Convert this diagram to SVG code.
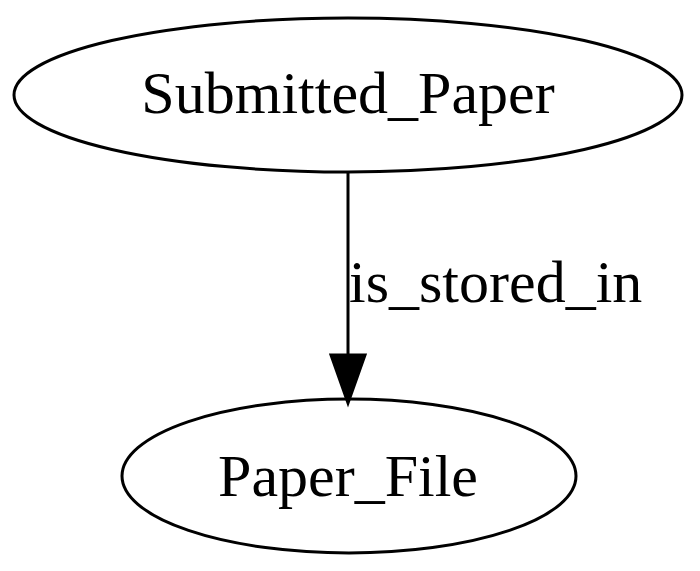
<svg xmlns="http://www.w3.org/2000/svg" width="700" height="571" viewBox="0 0 700 571">
<style>
.node ellipse{fill:none;stroke:#000;stroke-width:3}
text{font-family:"Liberation Serif","Times New Roman",serif;font-size:60px;fill:#000}
.edge line{stroke:#000;stroke-width:3}
</style>
<rect width="700" height="571" fill="#fff"/>
<g id="Submitted_Paper" class="node">
<ellipse cx="348" cy="95" rx="334" ry="77"/>
<text x="348" y="113" text-anchor="middle">Submitted_Paper</text>
</g>
<g id="Paper_File" class="node">
<ellipse cx="349" cy="476" rx="227" ry="77"/>
<text x="348" y="496" text-anchor="middle">Paper_File</text>
</g>
<g id="edges" class="edge">
<line x1="348" y1="172" x2="348" y2="356"/>
<polygon points="331,355 365,355 348,403" fill="#000" stroke="#000" stroke-width="3"/>
<text x="349" y="302">is_stored_in</text>
</g>
</svg>
